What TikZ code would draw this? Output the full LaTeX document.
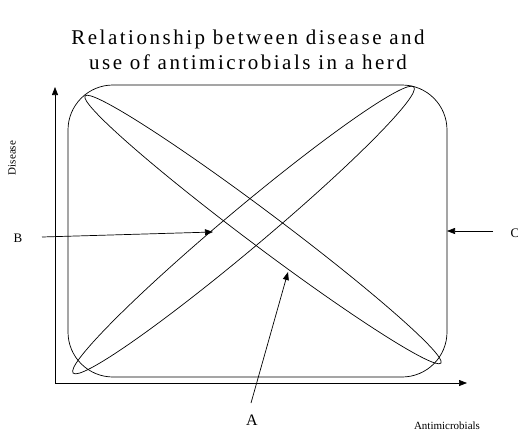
\documentclass[tikz,border=0pt]{standalone}
\usepackage{fontspec}
\setmainfont{Liberation Serif}
\usepackage{tikz}
\usetikzlibrary{arrows.meta,calc,positioning}

\begin{document}
\begin{tikzpicture}[x=1pt, y=1pt, line width=0.7pt,
		pointer/.style={-{Triangle[length=8pt,width=6pt]}},
		letter/.style={font=\fontsize{13}{15}\selectfont}]
		\useasboundingbox (0,0) rectangle (518,432);
		% title
		\node[align=center, font=\fontsize{21}{25}\selectfont\addfontfeature{LetterSpace=12}] (title) at (248,382)
		{Relationship between disease and\\use of antimicrobials in a herd};
		% axes
		\coordinate (O) at (55,49);
		\coordinate (Xend) at (467,49);
		\coordinate (Yend) at (55,345);
		\draw[pointer] (O)--(Xend);
		\draw[pointer] (O)--(Yend);
		\node[font=\fontsize{11}{13}\selectfont, rotate=90] (dis) at (12,274) {Disease};
		\node[font=\fontsize{11}{13}\selectfont] (anti) at (447,6) {Antimicrobials};
		% herd area and the two ellipses
		\draw[rounded corners=45pt] (68,55) rectangle (447,347);
		\draw[rotate around={-36.9:(263,202.5)}] (263,202.5) ellipse [x radius=222.5, y radius=17];
		\draw[rotate around={40:(243.5,202)}] (243.5,202) ellipse [x radius=222.5, y radius=20];
		% labels and pointers
		\node[letter] (B) at (18,194) {B};
		\node[letter] (C) at (515,199) {C};
		\node[font=\fontsize{16}{18}\selectfont] (A) at (252,12) {A};
		\coordinate (Bs) at (42,195); \coordinate (Bt) at (213,200);
		\coordinate (Cs) at (493,201); \coordinate (Ct) at (447,201);
		\coordinate (As) at (251,29); \coordinate (At) at (288,160);
		\draw[pointer] (Bs)--(Bt);
		\draw[pointer] (Cs)--(Ct);
		\draw[pointer] (As)--(At);
	\end{tikzpicture}
\end{document}
